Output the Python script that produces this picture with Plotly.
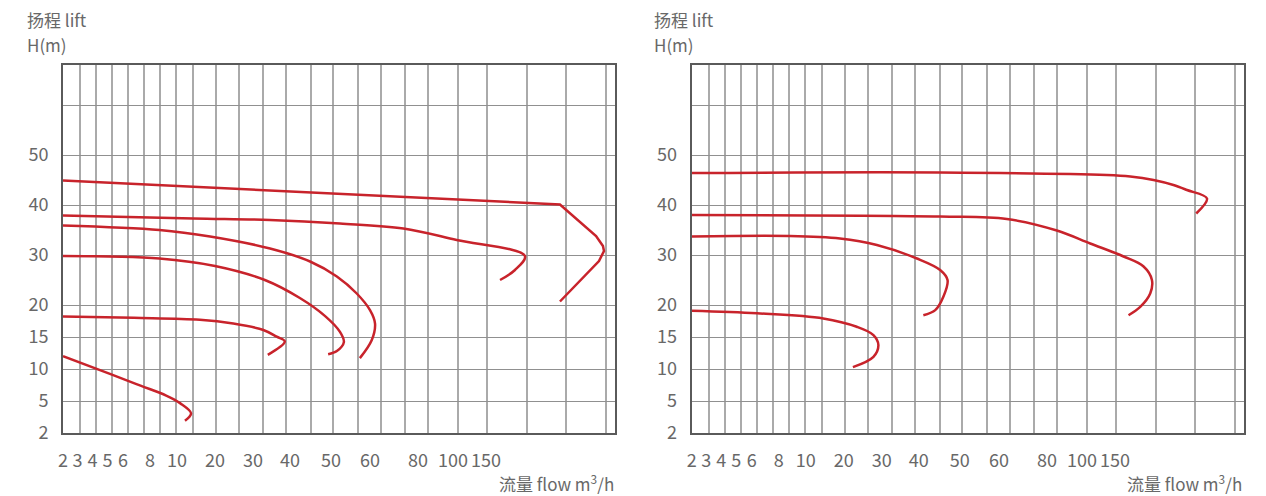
import numpy as np
import plotly.graph_objects as go


# =====================================================
# DATA  (flow in m3/h, head in m)
# =====================================================

flow_ticks = [2, 3, 4, 5, 6, 8, 10, 20, 30, 40, 50, 60, 80, 100, 150]
head_ticks = [2, 5, 10, 15, 20, 30, 40, 50]

# left chart
left_q1 = [2, 5.2, 7.3, 9.2, 10.8, 13.7, 12.1]
left_h1 = [12.0, 9.2, 7.4, 5.85, 4.8, 3.85, 3.15]

left_q2 = [2, 6.8, 16.0, 24.8, 32.8, 36.4, 38.6, 34.0]
left_h2 = [18.2, 18.0, 17.7, 17.1, 16.1, 15.05, 14.3, 12.2]

left_q3 = [2, 8.7, 20.0, 33.2, 42.4, 48.5, 52.3, 53.3, 51.5, 49.3]
left_h3 = [29.8, 29.3, 27.8, 25.0, 21.4, 18.3, 15.8, 14.2, 12.8, 12.3]

left_q4 = [2, 8.7, 18.7, 34.6, 44.9, 51.5, 56.6, 60.0, 62.1, 60.7, 57.4]
left_h4 = [35.9, 35.0, 33.7, 31.3, 28.7, 25.7, 22.3, 19.2, 17.1, 14.5, 11.7]

left_q5 = [2, 14.3, 34.6, 52.3, 73.9, 105.6, 195.3, 183.7, 166.3]
left_h5 = [37.9, 37.3, 37.0, 36.3, 35.3, 33.0, 29.8, 27.0, 25.0]

left_q6 = [2, 236, 278, 286, 287.2, 281.4, 236]
left_h6 = [44.9, 40.1, 33.8, 31.8, 30.8, 28.8, 20.7]

# right chart
right_q1 = [2, 6.4, 14.6, 23.4, 27.8, 29.1, 27.8, 22.4]
right_h1 = [19.1, 18.7, 17.9, 16.6, 15.3, 13.75, 11.9, 10.3]

right_q2 = [2, 8.8, 19.0, 28.7, 39.5, 45.2, 47.0, 46.0, 44.0, 41.1]
right_h2 = [33.7, 33.8, 33.3, 32.0, 29.3, 27.0, 25.0, 21.7, 19.2, 18.4]

right_q3 = [2, 45.2, 63.3, 85.7, 112.6, 160, 183.3, 193, 191, 179.4, 165.8]
right_h3 = [38.0, 37.7, 37.2, 34.9, 32.3, 29.7, 27.7, 25.0, 22.3, 19.7, 18.4]

right_q4 = [2, 45.2, 137.9, 167.8, 194.9, 218, 233.7, 257, 244.5]
right_h4 = [46.4, 46.5, 46.0, 45.7, 45.0, 44.0, 43.0, 41.3, 38.3]


# =====================================================
# SCALES  (the printed chart uses hand drawn, uneven scales)
# =====================================================

FLOW_SCALE = [2, 3, 4, 5, 6, 8, 10, 20, 30, 40, 50, 60, 80, 100, 150, 300]
FLOW_POS = [0, 14.5, 29.5, 44.5, 60, 87, 114, 152, 190, 227, 268, 307, 355, 390, 423, 552]

HEAD_SCALE = [2, 5, 10, 15, 20, 30, 40, 50, 60, 68]
HEAD_POS = [0, 32, 64, 96, 128, 178, 228, 278, 328, 368]

GRID_X = [17, 33, 49, 65, 81, 97, 113, 130, 153, 176, 200, 223, 248, 270,
          295, 318, 342, 365, 395, 424, 464, 503, 543]


def q_pos(q):
    return np.interp(q, FLOW_SCALE, FLOW_POS)


def h_pos(h):
    return np.interp(h, HEAD_SCALE, HEAD_POS)


RED = "#c8232b"
TEXT = "#686868"
FONT = "Noto Sans CJK SC, Noto Sans, sans-serif"

# the page body keeps an 8px margin, so the figure is laid out in page pixels
OFF = 8
W, H = 1266 - OFF, 496 - OFF


def px(x):
    return (x - OFF) / W


def py(y):
    return 1 - (y - OFF) / H


# =====================================================
# FIGURE
# =====================================================

fig = go.Figure()

panels = [
    ("x", "y", [(left_q1, left_h1), (left_q2, left_h2), (left_q3, left_h3),
                (left_q4, left_h4), (left_q5, left_h5), (left_q6, left_h6)]),
    ("x2", "y2", [(right_q1, right_h1), (right_q2, right_h2),
                  (right_q3, right_h3), (right_q4, right_h4)]),
]

for xa, ya, curves in panels:
    for q, h in curves:
        # the top left curve is made of straight strokes with a hard corner
        sharp = q is left_q6
        fig.add_trace(
            go.Scatter(
                x=q_pos(q),
                y=h_pos(h),
                mode="lines",
                line=dict(color=RED, width=2.5,
                          shape="linear" if sharp else "spline",
                          smoothing=1.0),
                xaxis=xa,
                yaxis=ya,
                hoverinfo="skip",
            )
        )


def x_axis(x0, x1):
    return dict(
        domain=[px(x0), px(x1)],
        range=[0, 552],
        tickmode="array",
        tickvals=q_pos(flow_ticks),
        ticktext=[str(v) for v in flow_ticks],
        ticks="outside",
        ticklen=10,
        tickcolor="rgba(0,0,0,0)",
        tickfont=dict(family=FONT, size=18, color=TEXT),
        showgrid=False,
        zeroline=False,
        showline=True,
        mirror=True,
        linecolor="#5a5a5a",
        linewidth=2,
        minor=dict(tickmode="array", tickvals=GRID_X, showgrid=True,
                   gridcolor="#aaaaaa", gridwidth=1.5, ticks=""),
        automargin=False,
        fixedrange=True,
    )


def y_axis():
    return dict(
        domain=[py(433), py(65)],
        range=[0, 368],
        tickmode="array",
        tickvals=h_pos(head_ticks),
        ticktext=[str(v) for v in head_ticks],
        ticks="outside",
        ticklen=9,
        tickcolor="rgba(0,0,0,0)",
        tickfont=dict(family=FONT, size=18, color=TEXT),
        showgrid=True,
        gridcolor="#909090",
        gridwidth=1.2,
        zeroline=False,
        showline=True,
        mirror=True,
        linecolor="#5a5a5a",
        linewidth=2,
        minor=dict(tickmode="array", tickvals=h_pos([60]), showgrid=True,
                   gridcolor="#909090", gridwidth=1.2, ticks=""),
        automargin=False,
        fixedrange=True,
    )


yaxis2 = y_axis()
yaxis2["anchor"] = "x2"
xaxis2 = x_axis(691.7, 1244)
xaxis2["anchor"] = "y2"

fig.update_layout(
    template="plotly_white",
    width=W,
    height=H,
    margin=dict(l=0, r=0, t=0, b=0),
    plot_bgcolor="white",
    paper_bgcolor="white",
    showlegend=False,
    xaxis=x_axis(63, 615),
    yaxis=y_axis(),
    xaxis2=xaxis2,
    yaxis2=yaxis2,
)

# axis titles
for x_left, x_right in [(25, 616), (652, 1244)]:
    fig.add_annotation(x=px(x_left), y=py(19), xref="paper", yref="paper",
                       text="扬程 lift", showarrow=False, xanchor="left",
                       yanchor="middle", font=dict(family=FONT, size=17, color=TEXT))
    fig.add_annotation(x=px(x_left), y=py(45), xref="paper", yref="paper",
                       text="H(m)", showarrow=False, xanchor="left",
                       yanchor="middle", font=dict(family=FONT, size=17, color=TEXT))
    fig.add_annotation(x=px(x_right), y=py(483), xref="paper", yref="paper",
                       text="流量 flow m<sup>3</sup>/h", showarrow=False,
                       xanchor="right", yanchor="middle",
                       font=dict(family=FONT, size=17, color=TEXT))

fig.write_html("out.html")
